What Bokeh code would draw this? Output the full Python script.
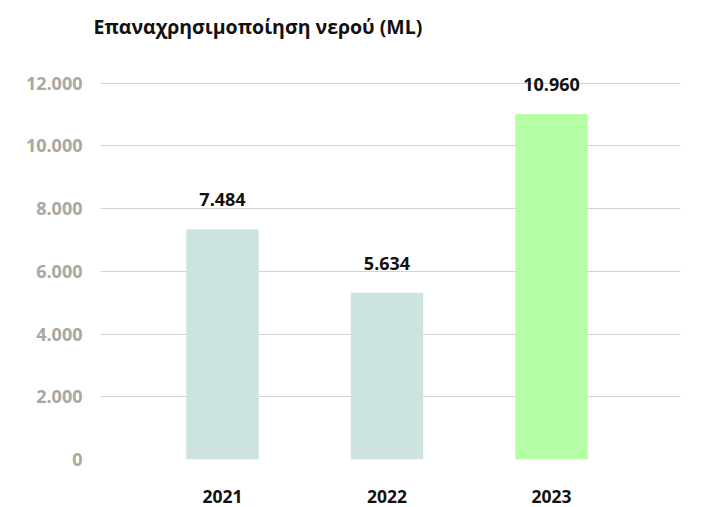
from bokeh.plotting import figure
from bokeh.models import ColumnDataSource, Range1d, FixedTicker, LabelSet
from bokeh.core.properties import value
from bokeh.embed import file_html
from bokeh.resources import INLINE

# ---- data ----
years = ["2021", "2022", "2023"]
bar_heights = [7340, 5320, 11020]          # bar lengths as drawn in the picture (ML)
value_labels = ["7.484", "5.634", "10.960"]  # printed values
bar_colors = ["#cde3df", "#cde3df", "#b4ffa4"]
y_ticks = [0, 2000, 4000, 6000, 8000, 10000, 12000]
y_tick_labels = ["0", "2.000", "4.000", "6.000", "8.000", "10.000", "12.000"]
title_text = "Επαναχρησιμοποίηση νερού (ML)"

FONT = "Open Sans"

xpos = list(range(len(years)))
src = ColumnDataSource(dict(x=xpos, top=bar_heights, lab=value_labels, color=bar_colors))

p = figure(
    width=703, height=507,
    x_range=Range1d(-0.7416, 2.784),
    y_range=Range1d(0, 13075),
    output_backend="svg", toolbar_location=None,
    min_border_left=100, min_border_right=23,
    min_border_top=0, min_border_bottom=48,
)
p.outline_line_color = None
p.background_fill_color = "white"
p.border_fill_color = "white"

p.title.text = title_text
p.title.text_font = FONT
p.title.text_font_size = "19.5px"
p.title.text_font_style = "bold"
p.title.text_color = "#111111"
p.title.align = "left"
p.title.offset = -7
p.title.standoff = 20

p.vbar(x="x", top="top", width=0.44, color="color", line_color=None, source=src)

labels = LabelSet(x="x", y="top", text="lab", source=src,
                  text_align="center", text_baseline="alphabetic", y_offset=23,
                  text_font=value(FONT), text_font_size="18px", text_font_style="bold",
                  text_color="#111111")
p.add_layout(labels)

# y axis
p.yaxis.ticker = FixedTicker(ticks=y_ticks)
p.yaxis.major_label_overrides = {t: l for t, l in zip(y_ticks, y_tick_labels)}
p.yaxis.axis_line_color = None
p.yaxis.major_tick_line_color = None
p.yaxis.minor_tick_line_color = None
p.yaxis.major_label_standoff = 12
p.yaxis.major_label_text_font = FONT
p.yaxis.major_label_text_font_size = "18px"
p.yaxis.major_label_text_font_style = "bold"
p.yaxis.major_label_text_color = "#a8a8a2"

# x axis
p.xaxis.ticker = FixedTicker(ticks=xpos)
p.xaxis.major_label_overrides = {i: y for i, y in zip(xpos, years)}
p.xaxis.axis_line_color = None
p.xaxis.major_tick_line_color = None
p.xaxis.minor_tick_line_color = None
p.xaxis.major_label_standoff = 24
p.xaxis.major_label_text_font = FONT
p.xaxis.major_label_text_font_size = "17.5px"
p.xaxis.major_label_text_font_style = "bold"
p.xaxis.major_label_text_color = "#111111"

p.xgrid.grid_line_color = None
p.ygrid.grid_line_color = "#d3d3d3"
p.ygrid.grid_line_width = 1.2

open("out.html", "w").write(file_html(p, INLINE))
